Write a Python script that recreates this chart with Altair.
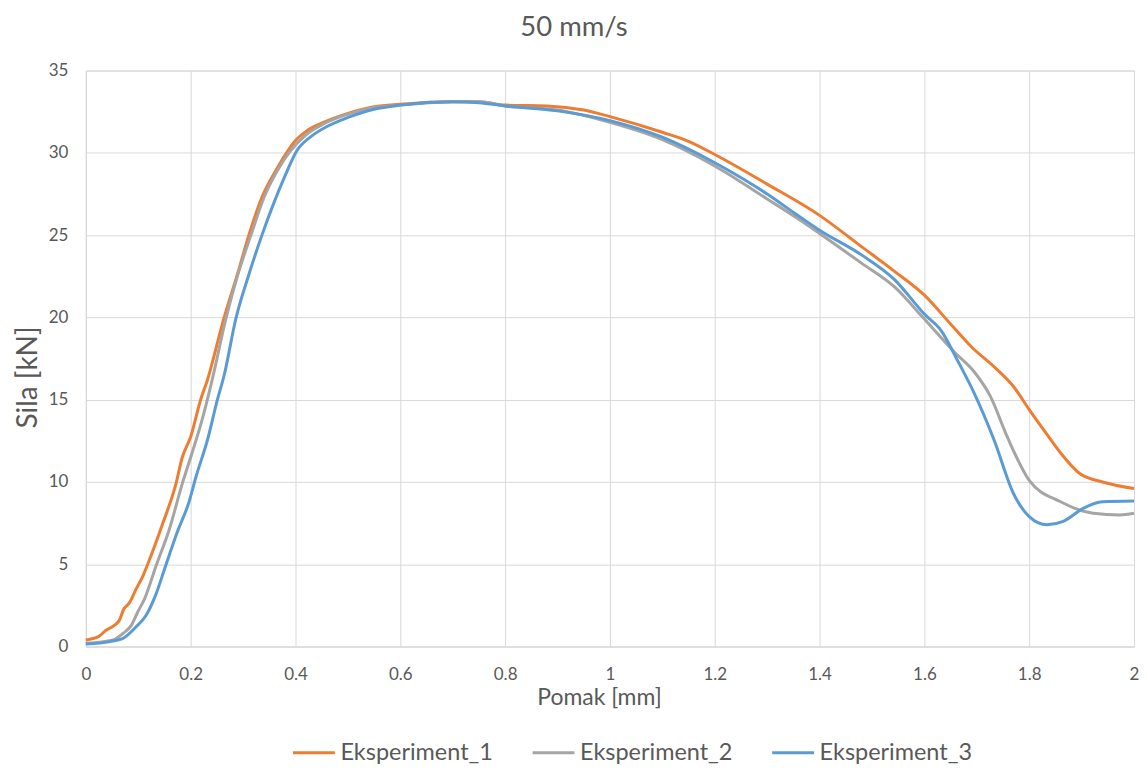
import altair as alt
import pandas as pd

series_names = ["Eksperiment_1", "Eksperiment_2", "Eksperiment_3"]
series_colors = ["#ED7D31", "#A5A5A5", "#5B9BD5"]

e1_x = [0, 0.024, 0.039, 0.055, 0.064, 0.072, 0.083, 0.096, 0.109, 0.118, 0.147, 0.172, 0.184, 0.2, 0.219,
        0.232, 0.263, 0.29, 0.311, 0.336, 0.362, 0.387, 0.4, 0.42, 0.45, 0.5, 0.55, 0.6, 0.7, 0.75, 0.8, 0.88,
        0.95, 1.0, 1.1, 1.15, 1.2, 1.3, 1.4, 1.48, 1.543, 1.6, 1.65, 1.69, 1.733, 1.77, 1.8, 1.827, 1.859,
        1.897, 1.94, 2.0]
e1_y = [0.4, 0.6, 1.0, 1.3, 1.6, 2.25, 2.65, 3.5, 4.3, 5.0, 7.5, 9.9, 11.5, 12.75, 15.0,
        16.2, 19.9, 22.7, 25.0, 27.3, 28.9, 30.2, 30.75, 31.3, 31.8, 32.4, 32.8, 32.95, 33.1, 33.1, 32.9, 32.85,
        32.6, 32.2, 31.25, 30.7, 29.9, 28.1, 26.2, 24.3, 22.8, 21.35, 19.6, 18.2, 17.0, 15.8, 14.4, 13.2, 11.8,
        10.5, 10.0, 9.6]

e2_x = [0, 0.052, 0.071, 0.087, 0.099, 0.112, 0.135, 0.159, 0.184, 0.2, 0.222, 0.241, 0.267, 0.29, 0.315,
        0.34, 0.365, 0.39, 0.42, 0.45, 0.5, 0.55, 0.6, 0.7, 0.75, 0.8, 0.9, 1.0, 1.1, 1.2, 1.3, 1.354, 1.4,
        1.48, 1.543, 1.6, 1.657, 1.695, 1.726, 1.758, 1.8, 1.86, 1.922, 1.973, 2.0]
e2_y = [0.2, 0.4, 0.8, 1.3, 2.1, 2.9, 5.0, 7.1, 9.9, 11.5, 13.8, 16.2, 19.9, 22.6, 25.0,
        27.3, 28.9, 30.1, 31.1, 31.7, 32.35, 32.75, 32.9, 33.1, 33.1, 32.85, 32.6, 31.85, 30.8, 29.2, 27.2, 26.1,
        25.1, 23.3, 21.85, 19.9, 17.9, 16.7, 15.2, 12.75, 10.1, 8.8, 8.1, 8.0, 8.1]

e3_x = [0, 0.046, 0.071, 0.096, 0.115, 0.134, 0.15, 0.175, 0.197, 0.21, 0.232, 0.251, 0.264, 0.286, 0.31,
        0.336, 0.358, 0.38, 0.402, 0.43, 0.46, 0.5, 0.55, 0.6, 0.7, 0.75, 0.8, 0.9, 1.0, 1.1, 1.2, 1.3, 1.354,
        1.4, 1.48, 1.543, 1.6, 1.632, 1.663, 1.695, 1.733, 1.77, 1.8, 1.834, 1.865, 1.903, 1.94, 2.0]
e3_y = [0.15, 0.3, 0.5, 1.2, 1.9, 3.2, 4.7, 7.0, 8.8, 10.3, 12.55, 15.0, 16.5, 19.9, 22.5,
        25.0, 26.9, 28.6, 30.1, 31.0, 31.6, 32.15, 32.65, 32.9, 33.1, 33.05, 32.85, 32.55, 31.96, 30.95, 29.4, 27.5,
        26.3, 25.3, 23.8, 22.3, 20.2, 19.2, 17.4, 15.4, 12.55, 9.3, 7.9, 7.4, 7.6, 8.4, 8.8, 8.85]

x_ticks = [0, 0.2, 0.4, 0.6, 0.8, 1, 1.2, 1.4, 1.6, 1.8, 2]
y_ticks = [0, 5, 10, 15, 20, 25, 30, 35]

rows = []
for name, xs, ys in zip(series_names, [e1_x, e2_x, e3_x], [e1_y, e2_y, e3_y]):
    for i, (a, b) in enumerate(zip(xs, ys)):
        rows.append({"series": name, "x": a, "y": b, "order": i})
df = pd.DataFrame(rows)

FONT = "Lato"
TXT = "#595959"
GRID = "#D9D9D9"

chart = alt.Chart(df).mark_line(strokeWidth=3, interpolate="monotone").encode(
    x=alt.X("x:Q",
            scale=alt.Scale(domain=[0, 2], nice=False, zero=False),
            axis=alt.Axis(values=x_ticks, format="~g", title="Pomak [mm]",
                          grid=True, gridColor=GRID, domainColor=GRID, ticks=False,
                          labelFont=FONT, labelFontSize=17, labelColor=TXT, labelPadding=20,
                          labelFlush=False,
                          titleFont=FONT, titleFontSize=23, titleColor=TXT, titleFontWeight="normal",
                          titleX=514, titleY=58, titleBaseline="alphabetic", titleAlign="center")),
    y=alt.Y("y:Q",
            scale=alt.Scale(domain=[0, 35], nice=False),
            axis=alt.Axis(values=y_ticks, title="Sila [kN]",
                          grid=True, gridColor=GRID, domainColor=GRID, ticks=False,
                          labelFont=FONT, labelFontSize=17, labelColor=TXT, labelPadding=18,
                          titleFont=FONT, titleFontSize=28, titleColor=TXT, titleFontWeight="normal",
                          titleX=-57, titleY=307, titleBaseline="middle", titleAlign="center")),
    color=alt.Color("series:N",
                    scale=alt.Scale(domain=series_names, range=series_colors),
                    title=None,
                    legend=alt.Legend(orient="none", legendX=206, legendY=661, direction="horizontal",
                                      symbolType="stroke", symbolStrokeWidth=3, symbolSize=1760,
                                      labelFont=FONT, labelFontSize=23.5, labelColor=TXT,
                                      labelOffset=4, columnPadding=33)),
    order="order:Q",
).properties(
    width=1050,
    height=577,
    title=alt.TitleParams("50 mm/s", font=FONT, fontSize=27.5, color=TXT, fontWeight="normal",
                          anchor="middle", dx=-36, dy=-16),
    autosize=alt.AutoSizeParams(type="none"),
    padding={"left": 78, "top": 62, "right": 5, "bottom": 120},
).configure_view(stroke=None).configure(background="white")

chart.save("out.html", embed_options={"renderer": "svg", "actions": False})
